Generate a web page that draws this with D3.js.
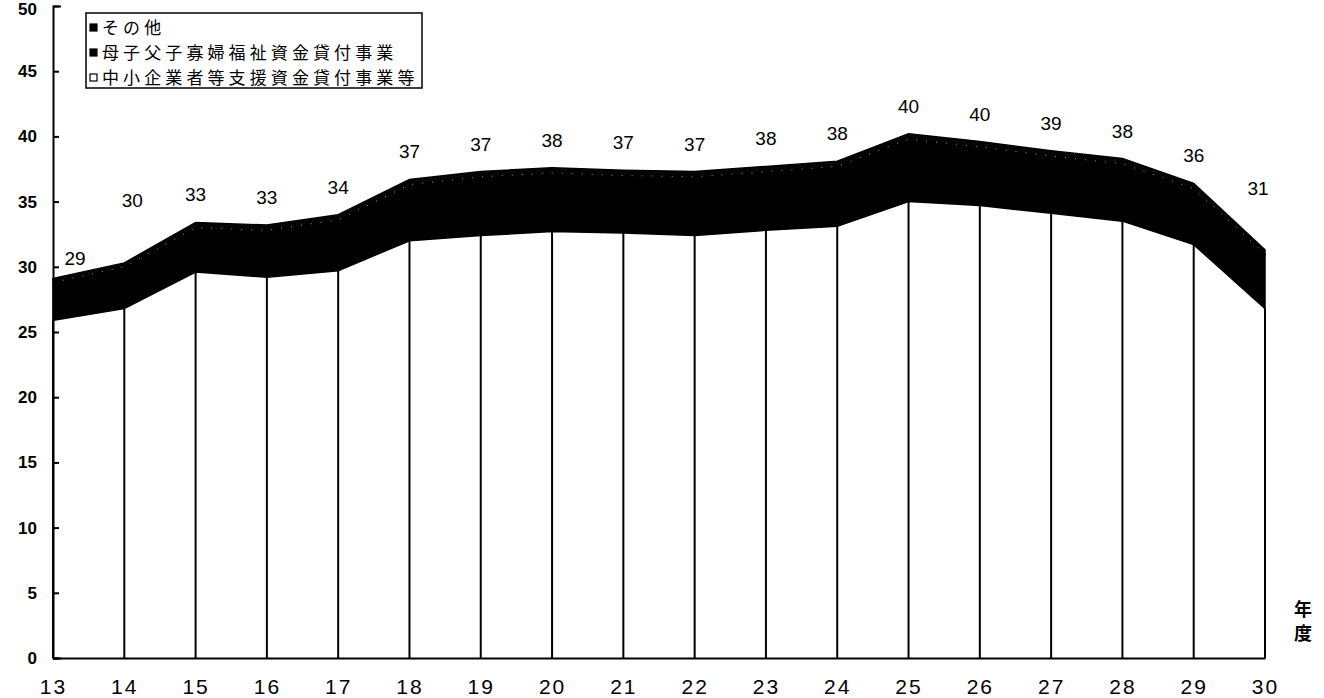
<!DOCTYPE html>
<html><head><meta charset="utf-8">
<script src="https://cdn.jsdelivr.net/npm/d3@7"></script>
<style>
body{margin:0;background:#fff}
text{font-family:"Liberation Sans",Arial,sans-serif}
.jp{font-family:"Noto Sans CJK JP","Noto Sans CJK SC",sans-serif}
</style></head>
<body><svg id="chart" width="1324" height="698"></svg>
<script>
// 年度 (平成)
const years = [13,14,15,16,17,18,19,20,21,22,23,24,25,26,27,28,29,30];
// 中小企業者等支援資金貸付事業等
const shien = [25.9,26.8,29.6,29.2,29.7,32.0,32.4,32.7,32.6,32.4,32.8,33.1,35.0,34.7,34.1,33.5,31.7,26.8];
// 母子父子寡婦福祉資金貸付事業
const boshi = [2.9,3.2,3.4,3.6,3.9,4.3,4.5,4.5,4.4,4.5,4.5,4.6,4.8,4.5,4.4,4.4,4.3,4.2];
// その他
const sonota = [0.3,0.3,0.4,0.4,0.4,0.4,0.4,0.4,0.4,0.4,0.4,0.4,0.4,0.4,0.4,0.4,0.4,0.3];
const yTicks = [0,5,10,15,20,25,30,35,40,45,50];
const seriesNames = ["中小企業者等支援資金貸付事業等","母子父子寡婦福祉資金貸付事業","その他"];
const unitLabel = ["年","度"];

const svg = d3.select("#chart");
const x = d3.scalePoint().domain(years).range([53,1265]);
const y = d3.scaleLinear().domain([0,50]).range([658,6]);

const rows = years.map((yr,i)=>({year:yr, shien:shien[i], boshi:boshi[i], sonota:sonota[i]}));
const stack = d3.stack().keys(["shien","boshi","sonota"]);
const layers = stack(rows);

const area = d3.area()
  .x(d=>x(d.data.year))
  .y0(d=>y(d[0]))
  .y1(d=>y(d[1]));

// stacked layers: white base, black upper bands
const fills = ["#fff","#000","#050505"];
svg.append("g").selectAll("path").data(layers).join("path")
  .attr("d",area)
  .attr("fill",(d,i)=>fills[i])
  .attr("stroke",(d,i)=>i===0?"none":"#000")
  .attr("stroke-width",1.5);

// faint dotted boundary between その他 and 母子父子寡婦
const boundary = d3.line()
  .x(d=>x(d.data.year))
  .y(d=>y(d[1]));
svg.append("path").datum(layers[1])
  .attr("d",boundary)
  .attr("fill","none")
  .attr("stroke","#999")
  .attr("stroke-width",1)
  .attr("stroke-dasharray","1,9");

// drop lines under the white layer
svg.append("g").selectAll("line").data(rows).join("line")
  .attr("x1",d=>x(d.year)).attr("x2",d=>x(d.year))
  .attr("y1",y(0)).attr("y2",d=>y(d.shien))
  .attr("stroke","#000").attr("stroke-width",2);

// y axis
const yAxis = svg.append("g").attr("transform",`translate(${x(years[0])},0)`)
  .call(d3.axisLeft(y).tickValues(yTicks).tickSize(-6).tickSizeOuter(-8).tickPadding(16));
yAxis.select(".domain").attr("stroke","#000").attr("stroke-width",2);
yAxis.selectAll(".tick line").attr("stroke","#000").attr("stroke-width",2);
yAxis.selectAll(".tick text").attr("font-size",17).attr("font-weight","bold")
  .attr("font-family","Liberation Sans, Arial, sans-serif").attr("fill","#000")
  .attr("dy",d=>d===50?"0.5em":"0.32em");

// x axis
const xAxis = svg.append("g").attr("transform",`translate(0,${y(0)})`)
  .call(d3.axisBottom(x).tickSize(0).tickPadding(21));
xAxis.select(".domain").attr("stroke","#000").attr("stroke-width",2);
xAxis.selectAll(".tick text").attr("font-size",21).attr("letter-spacing","2px")
  .attr("font-family","Liberation Sans, Arial, sans-serif").attr("fill","#000");

// unit label
svg.append("g").selectAll("text").data(unitLabel).join("text")
  .attr("class","jp")
  .attr("x",1303).attr("y",(d,i)=>616+i*24)
  .attr("text-anchor","middle").attr("font-size",18).attr("font-weight","bold")
  .text(d=>d);

// total labels
const nudge = {13:[22,7], 14:[8,-35], 30:[-7,-34]};
svg.append("g").selectAll("text").data(rows).join("text")
  .attr("x",d=>x(d.year)+(nudge[d.year]?nudge[d.year][0]:0))
  .attr("y",d=>y(d.shien+d.boshi+d.sonota)-21+(nudge[d.year]?nudge[d.year][1]:0))
  .attr("text-anchor","middle").attr("font-size",19).attr("fill","#000")
  .text(d=>Math.round(Math.round((d.shien+d.boshi+d.sonota)*10)/10));

// legend
const lg = svg.append("g").attr("transform","translate(86,13)");
lg.append("rect").attr("width",336).attr("height",75)
  .attr("fill","#fff").attr("stroke","#000").attr("stroke-width",1.5);
const legendItems = [seriesNames[2],seriesNames[1],seriesNames[0]];
const lrow = lg.selectAll("g").data(legendItems).join("g")
  .attr("transform",(d,i)=>`translate(4,${14+i*25})`);
lrow.append("rect")
  .attr("x",0).attr("y",-3).attr("width",7).attr("height",7)
  .attr("fill",(d,i)=>i===2?"#fff":"#000")
  .attr("stroke","#000").attr("stroke-width",1.2);
lrow.append("text").attr("class","jp")
  .attr("x",12).attr("y",7).attr("font-size",17).attr("letter-spacing","4.1px").attr("fill","#000")
  .text(d=>d);
</script>
</body></html>
